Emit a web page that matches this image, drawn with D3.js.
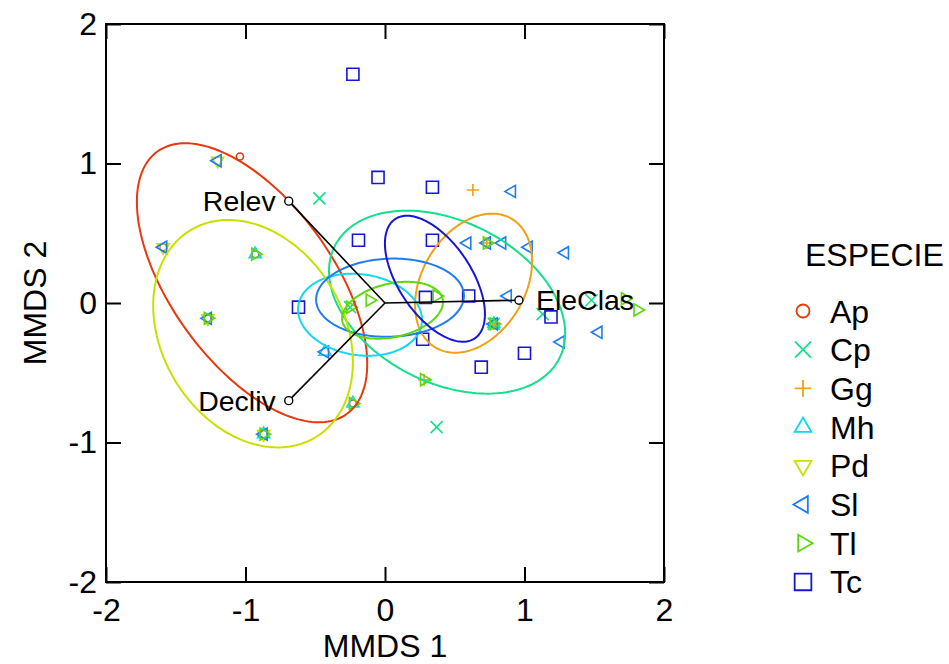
<!DOCTYPE html>
<html>
<head>
<meta charset="utf-8">
<script src="https://cdn.jsdelivr.net/npm/d3@7"></script>
<style>
  body { margin: 0; background: #fff; }
  text { font-family: "Liberation Sans", Arial, sans-serif; }
</style>
</head>
<body>
<svg width="949" height="664"></svg>
<script>
// species + colours
const species = ["Ap", "Cp", "Gg", "Mh", "Pd", "Sl", "Tl", "Tc"];
const speciesColors = ["#e8380e", "#12e08a", "#f0a012", "#12d8ee", "#c8e000", "#1e7cf0", "#5cd80c", "#1616d6"];

// site scores (MMDS 1, MMDS 2), one entry per site
const siteSp = [
  "Ap", "Ap", "Ap", "Ap", "Ap",
  "Cp", "Cp", "Cp", "Cp", "Cp", "Cp",
  "Gg", "Gg", "Gg", "Gg",
  "Mh", "Mh", "Mh", "Mh", "Mh",
  "Pd", "Pd", "Pd", "Pd",
  "Sl", "Sl", "Sl", "Sl", "Sl", "Sl", "Sl", "Sl", "Sl", "Sl", "Sl", "Sl", "Sl", "Sl", "Sl",
  "Tl", "Tl", "Tl", "Tl", "Tl", "Tl", "Tl", "Tl", "Tl", "Tl", "Tl", "Tl",
  "Tc", "Tc", "Tc", "Tc", "Tc", "Tc", "Tc", "Tc", "Tc", "Tc", "Tc", "Tc"
];
const siteX = [
  -1.04, -1.59, -0.93, -1.27, -0.23,
  -0.47, 0.37, 1.48, 1.13, -0.25, 0.78,
  0.63, 0.73, 0.28, 0.78,
  -0.93, -0.43, -0.23, -0.87, 0.78,
  -1.20, -1.59, -1.27, -0.87,
  -1.20, -1.59, -1.27, -0.87, -0.43, 0.59, 0.73, 0.84, 1.03, 0.91, 1.29, 0.88, 1.26, 1.53, 0.78,
  -0.93, -1.27, -0.87, -0.23, -0.11, -0.25, 0.73, 0.78, 0.28, 0.37, 1.72, 1.81,
  -0.23, -0.05, 0.34, -0.19, 0.34, -0.62, 0.29, 0.60, 0.27, 1.19, 1.00, 0.69
];
const siteY = [
  1.05, 0.40, 0.35, -0.11, -0.72,
  0.75, -0.89, 0.02, -0.08, -0.03, -0.15,
  0.81, 0.43, -0.55, -0.15,
  0.35, -0.35, -0.72, -0.94, -0.15,
  1.02, 0.40, -0.11, -0.94,
  1.02, 0.40, -0.11, -0.94, -0.35, 0.43, 0.43, 0.43, 0.40, 0.80, 0.36, 0.05, -0.28, -0.21, -0.15,
  0.35, -0.11, -0.94, -0.72, 0.02, -0.03, 0.43, -0.15, -0.55, 0.05, 0.03, -0.05,
  1.64, 0.90, 0.83, 0.45, 0.45, -0.03, 0.04, 0.05, -0.26, -0.10, -0.36, -0.46
];

// ellipses per species: centre, semi axes, rotation (deg)
const ellCx = [-0.953, 0.445, 0.635, -0.179, -0.946, 0.036, 0.054, 0.358];
const ellCy = [0.145, 0.006, 0.142, -0.084, -0.22, 0.038, -0.052, 0.174];
const ellA = [1.16, 0.90, 0.536, 0.447, 0.867, 0.53, 0.368, 0.514];
const ellB = [0.58, 0.58, 0.37, 0.29, 0.652, 0.28, 0.192, 0.261];
const ellAngle = [-54.2, -26.4, 59.4, -8.4, -58.9, 2, 12.7, -56.3];

// fitted vectors
const vecNames = ["Relev", "Decliv", "EleClas"];
const vecX = [-0.69, -0.69, 0.96];
const vecY = [0.73, -0.70, 0.02];

const ticks = [-2, -1, 0, 1, 2];

const svg = d3.select("svg");
const margin = { left: 106, right: 664, top: 24, bottom: 582 };

const x = d3.scaleLinear().domain([-2, 2]).range([margin.left, margin.right]);
const y = d3.scaleLinear().domain([-2, 2]).range([margin.bottom, margin.top]);
const color = d3.scaleOrdinal().domain(species).range(speciesColors);

// axes, inward ticks on all 4 sides
const styleAxis = (g) => {
  g.select(".domain").remove();
  g.selectAll(".tick line").attr("stroke", "#000").attr("stroke-width", 2);
  g.selectAll(".tick text").attr("font-size", 32).attr("fill", "#000")
    .attr("font-family", "Liberation Sans, Arial, sans-serif");
};
const fmt = (d) => String(d);
svg.append("g").attr("transform", `translate(0,${margin.bottom})`)
  .call(d3.axisBottom(x).tickValues(ticks).tickSize(-15).tickPadding(16).tickFormat(fmt))
  .call(styleAxis);
svg.append("g").attr("transform", `translate(${margin.left},0)`)
  .call(d3.axisLeft(y).tickValues(ticks).tickSize(-15).tickPadding(9).tickFormat(fmt))
  .call(styleAxis);
svg.append("g").attr("transform", `translate(0,${margin.top})`)
  .call(d3.axisTop(x).tickValues(ticks).tickSize(-15).tickFormat(""))
  .call(styleAxis);
svg.append("g").attr("transform", `translate(${margin.right},0)`)
  .call(d3.axisRight(y).tickValues(ticks).tickSize(-15).tickFormat(""))
  .call(styleAxis);

svg.append("rect")
  .attr("x", margin.left).attr("y", margin.top)
  .attr("width", margin.right - margin.left).attr("height", margin.bottom - margin.top)
  .attr("fill", "none").attr("stroke", "#000").attr("stroke-width", 2);

// axis titles
svg.append("text").text("MMDS 1")
  .attr("x", (margin.left + margin.right) / 2).attr("y", 657)
  .attr("text-anchor", "middle").attr("font-size", 32);
svg.append("text").text("MMDS 2")
  .attr("transform", `translate(46,${(margin.top + margin.bottom) / 2}) rotate(-90)`)
  .attr("text-anchor", "middle").attr("font-size", 32);

// marker shapes (size = plot marker, lsize = legend marker)
const shapes = {
  Ap: { type: d3.symbolCircle, size: 40, lsize: 133, rot: 0 },
  Cp: { type: d3.symbolTimes, size: 96, lsize: 168, rot: 0 },
  Gg: { type: d3.symbolPlus, size: 50, lsize: 92, rot: 0 },
  Mh: { type: d3.symbolTriangle2, size: 105, lsize: 200, rot: 0 },
  Pd: { type: d3.symbolTriangle2, size: 105, lsize: 200, rot: 180 },
  Sl: { type: d3.symbolTriangle2, size: 105, lsize: 200, rot: -90 },
  Tl: { type: d3.symbolTriangle2, size: 105, lsize: 200, rot: 90 },
  Tc: { type: d3.symbolSquare2, size: 185, lsize: 355, rot: 0 }
};

const sites = siteSp.map((s, i) => ({ sp: s, x: siteX[i], y: siteY[i] }));
sites.sort((a, b) => species.indexOf(a.sp) - species.indexOf(b.sp));

svg.append("g").selectAll("path")
  .data(sites)
  .join("path")
  .attr("d", (d) => d3.symbol(shapes[d.sp].type, shapes[d.sp].size)())
  .attr("transform", (d) => `translate(${x(d.x)},${y(d.y)}) rotate(${shapes[d.sp].rot})`)
  .attr("fill", "none")
  .attr("stroke", (d) => color(d.sp))
  .attr("stroke-width", 1.6);

// ellipses
const ellLine = d3.line().x((p) => x(p[0])).y((p) => y(p[1])).curve(d3.curveLinearClosed);
const ellPoints = (i) => {
  const th = (ellAngle[i] * Math.PI) / 180;
  return d3.range(0, 2 * Math.PI, Math.PI / 90).map((t) => [
    ellCx[i] + ellA[i] * Math.cos(t) * Math.cos(th) - ellB[i] * Math.sin(t) * Math.sin(th),
    ellCy[i] + ellA[i] * Math.cos(t) * Math.sin(th) + ellB[i] * Math.sin(t) * Math.cos(th)
  ]);
};
svg.append("g").selectAll("path")
  .data(species)
  .join("path")
  .attr("d", (d, i) => ellLine(ellPoints(i)))
  .attr("fill", "none")
  .attr("stroke", (d) => color(d))
  .attr("stroke-width", 2);

// vectors
const vg = svg.append("g");
vecNames.forEach((n, i) => {
  vg.append("line")
    .attr("x1", x(0)).attr("y1", y(0))
    .attr("x2", x(vecX[i])).attr("y2", y(vecY[i]))
    .attr("stroke", "#000").attr("stroke-width", 1.6);
  vg.append("circle")
    .attr("cx", x(vecX[i])).attr("cy", y(vecY[i])).attr("r", 4)
    .attr("fill", "#fff").attr("stroke", "#000").attr("stroke-width", 1.4);
  const toRight = vecX[i] > 0;
  vg.append("text").text(n)
    .attr("x", x(vecX[i]) + (toRight ? 17 : -13))
    .attr("y", y(vecY[i]) + 10)
    .attr("text-anchor", toRight ? "start" : "end")
    .attr("font-size", 28.5);
});

// legend
const lg = svg.append("g");
lg.append("text").text("ESPECIE").attr("x", 805).attr("y", 266).attr("font-size", 32);
species.forEach((s, i) => {
  const cy = 311 + i * 38.7;
  lg.append("path")
    .attr("d", d3.symbol(shapes[s].type, shapes[s].lsize)())
    .attr("transform", `translate(803,${cy}) rotate(${shapes[s].rot})`)
    .attr("fill", "none").attr("stroke", color(s)).attr("stroke-width", 1.8);
  lg.append("text").text(s).attr("x", 830).attr("y", cy + 11.5).attr("font-size", 32);
});
</script>
</body>
</html>
